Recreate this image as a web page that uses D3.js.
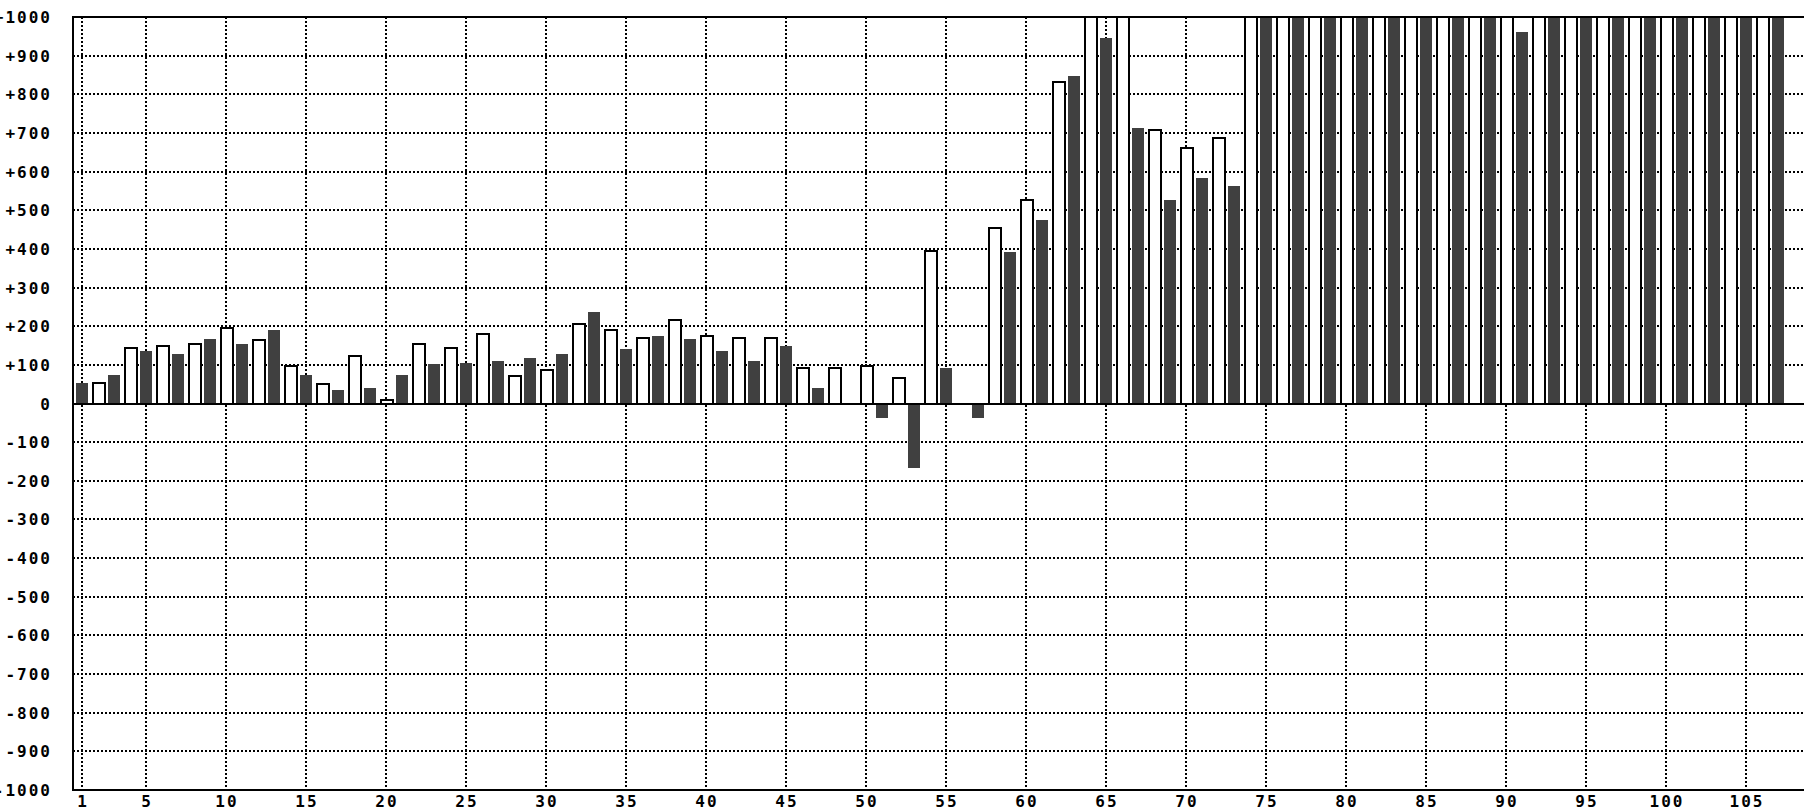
<!DOCTYPE html>
<html>
<head>
<meta charset="utf-8">
<script src="https://cdn.jsdelivr.net/npm/d3@7/dist/d3.min.js"></script>
<style>
  html, body { margin: 0; padding: 0; background: #ffffff; }
  svg { display: block; }
  text { font-family: "DejaVu Sans Mono", monospace; font-size: 16px; font-weight: bold; fill: #000; letter-spacing: 2px; }
</style>
</head>
<body>
<svg id="chart" width="1804" height="810"></svg>
<script>
// ---- data ----
const categories = d3.range(1, 108); // 1..107
// values; bars at 1000 run off the top of the scale
const values = [
  54, 52, 75, 143, 137, 148, 127, 154, 168, 195,          // 1-10
  153, 164, 189, 97, 75, 50, 34, 123, 39, 9,              // 11-20
  75, 154, 101, 143, 106, 180, 111, 71, 117, 86,          // 21-30
  127, 205, 236, 190, 142, 169, 174, 216, 168, 174,       // 31-40
  137, 169, 111, 169, 148, 91, 39, 91, null, 97,          // 41-50
  -37, 66, -167, 394, 91, null, -37, 454, 391, 527,       // 51-60
  474, 832, 847, 1000, 946, 1000, 712, 708, 526, 661,     // 61-70
  583, 687, 562, 1000, 1000, 1000, 1000, 1000, 1000, 1000, // 71-80
  1000, 1000, 1000, 1000, 1000, 1000, 1000, 1000, 1000, 1000, // 81-90
  960, 1000, 1000, 1000, 1000, 1000, 1000, 1000, 1000, 1000,  // 91-100
  1000, 1000, 1000, 1000, 1000, 1000, 1000                // 101-107
];
const xTicks = [1, 5, 10, 15, 20, 25, 30, 35, 40, 45, 50, 55, 60, 65, 70, 75, 80, 85, 90, 95, 100, 105];
const yTicks = [1000, 900, 800, 700, 600, 500, 400, 300, 200, 100, 0, -100, -200, -300, -400, -500, -600, -700, -800, -900, -1000];
const yTickLabels = yTicks.map(v => v > 0 ? "+" + v : String(v));

// ---- layout ----
const svg = d3.select("#chart");
const plotLeft = 73, plotRight = 1804, plotTop = 17, plotBottom = 790;
const x = d3.scaleLinear().domain([1, 105]).range([82, 1746]);
const y = d3.scaleLinear().domain([-1000, 1000]).range([plotBottom, plotTop]);
const DARK = "#404040";

// grid
const grid = svg.append("g").attr("stroke", "#000").attr("stroke-width", 2)
  .attr("stroke-dasharray", "2,2").attr("shape-rendering", "crispEdges");
grid.selectAll("line.h").data(yTicks.filter(v => v !== 0 && Math.abs(v) !== 1000)).enter()
  .append("line").attr("class", "h")
  .attr("x1", plotLeft).attr("x2", plotRight)
  .attr("y1", d => Math.round(y(d))).attr("y2", d => Math.round(y(d)));
grid.selectAll("line.v").data(xTicks).enter()
  .append("line").attr("class", "v")
  .attr("x1", d => x(d)).attr("x2", d => x(d))
  .attr("y1", plotTop).attr("y2", plotBottom);

// bars
const data = categories.map((c, i) => ({ c, v: values[i] })).filter(d => d.v !== null);
const bars = svg.append("g").attr("shape-rendering", "crispEdges");
bars.selectAll("rect.dark").data(data.filter(d => d.c % 2 === 1)).enter()
  .append("rect").attr("class", "dark")
  .attr("x", d => x(d.c) - 6).attr("width", 12)
  .attr("y", d => y(Math.max(0, d.v)))
  .attr("height", d => Math.abs(y(d.v) - y(0)))
  .attr("fill", DARK);
bars.selectAll("rect.light").data(data.filter(d => d.c % 2 === 0)).enter()
  .append("rect").attr("class", "light")
  .attr("x", d => x(d.c) - 5.5).attr("width", 12)
  .attr("y", d => y(Math.max(0, d.v)))
  .attr("height", d => Math.abs(y(d.v) - y(0)))
  .attr("fill", "#fff").attr("stroke", "#000").attr("stroke-width", 2);

// axes / frame
const frame = svg.append("g").attr("stroke", "#000").attr("stroke-width", 2).attr("shape-rendering", "crispEdges");
frame.append("line").attr("x1", plotLeft).attr("x2", plotRight).attr("y1", y(1000)).attr("y2", y(1000));
frame.append("line").attr("x1", plotLeft).attr("x2", plotRight).attr("y1", y(-1000)).attr("y2", y(-1000));
frame.append("line").attr("x1", plotLeft).attr("x2", plotRight).attr("y1", Math.round(y(0))).attr("y2", Math.round(y(0)));
frame.append("line").attr("x1", plotLeft).attr("x2", plotLeft).attr("y1", plotTop - 1).attr("y2", plotBottom + 1);

// y labels
svg.append("g").selectAll("text").data(yTicks).enter().append("text")
  .attr("x", 52).attr("y", d => Math.round(y(d)))
  .attr("dy", "0.35em").attr("text-anchor", "end")
  .text((d, i) => yTickLabels[i]);

// x labels
svg.append("g").selectAll("text").data(xTicks).enter().append("text")
  .attr("x", d => x(d) + 1).attr("y", 807)
  .attr("text-anchor", "middle")
  .text(d => String(d));
</script>
</body>
</html>
